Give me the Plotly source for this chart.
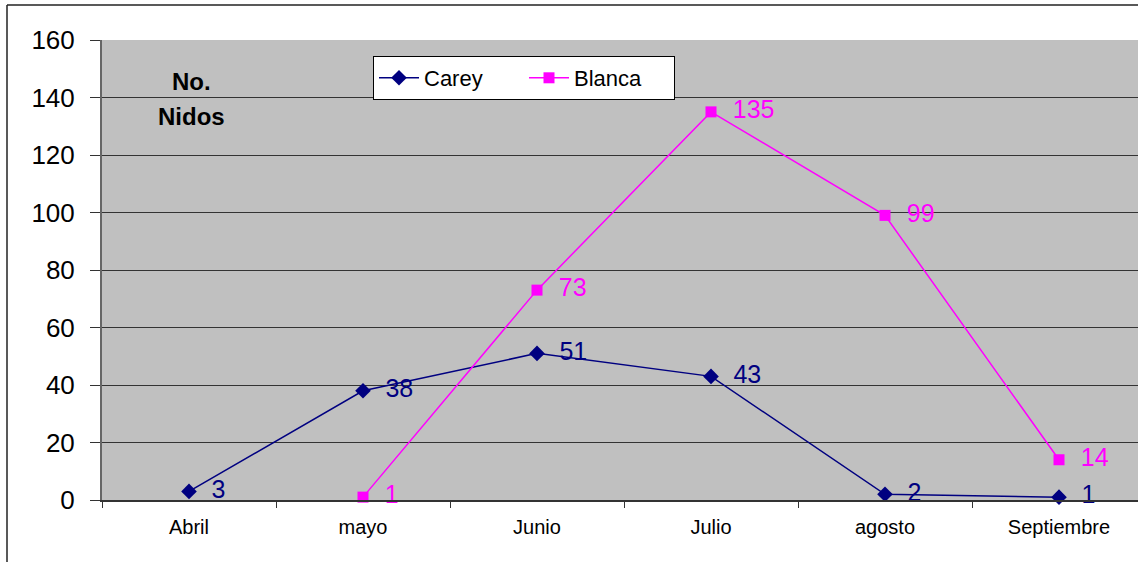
import plotly.graph_objects as go

months = ["Abril", "mayo", "Junio", "Julio", "agosto", "Septiembre"]
carey = [3, 38, 51, 43, 2, 1]
blanca_months = ["mayo", "Junio", "Julio", "agosto", "Septiembre"]
blanca = [1, 73, 135, 99, 14]
y_ticks = [0, 20, 40, 60, 80, 100, 120, 140, 160]

FONT = "Liberation Sans, Arial, sans-serif"
W, H = 1138, 562
L, R, T, B = 102, 0, 40, 62
pw, ph = W - L - R, H - T - B

fig = go.Figure()
fig.add_trace(go.Scatter(
    x=months, y=carey, name="Carey", mode="lines+markers+text",
    line=dict(color="#000080", width=1.5),
    marker=dict(symbol="diamond", size=12, color="#000080"),
    text=["  " + str(v) for v in carey], textposition="middle right",
    textfont=dict(family=FONT, size=25, color="#000080"),
    cliponaxis=False,
))
fig.add_trace(go.Scatter(
    x=blanca_months, y=blanca, name="Blanca", mode="lines+markers+text",
    line=dict(color="#FF00FF", width=1.5),
    marker=dict(symbol="square", size=11, color="#FF00FF"),
    text=["  " + str(v) for v in blanca], textposition="middle right",
    textfont=dict(family=FONT, size=25, color="#FF00FF"),
    cliponaxis=False,
))

def px_x(p):
    return (p - L) / pw

def px_y(p):
    return (H - B - p) / ph

fig.add_annotation(text="<b>No.</b>", xref="paper", yref="paper",
                   x=px_x(191), y=px_y(81), xanchor="center", yanchor="middle",
                   showarrow=False, font=dict(family=FONT, size=24, color="black"))
fig.add_annotation(text="<b>Nidos</b>", xref="paper", yref="paper",
                   x=px_x(191), y=px_y(116), xanchor="center", yanchor="middle",
                   showarrow=False, font=dict(family=FONT, size=24, color="black"))

# outer chart border
fig.add_shape(type="line", xref="paper", yref="paper", x0=px_x(7), x1=px_x(7),
              y0=px_y(5), y1=px_y(562), line=dict(color="#222", width=1.5))
fig.add_shape(type="line", xref="paper", yref="paper", x0=px_x(7), x1=px_x(1138),
              y0=px_y(5), y1=px_y(5), line=dict(color="#222", width=1.5))

fig.update_layout(
    width=W, height=H,
    margin=dict(l=L, r=R, t=T, b=B),
    paper_bgcolor="white", plot_bgcolor="#C0C0C0",
    font=dict(family=FONT, color="black"),
    showlegend=True,
    legend=dict(orientation="h", x=px_x(373), y=px_y(56), xanchor="left", yanchor="top",
                bgcolor="white", bordercolor="black", borderwidth=1,
                font=dict(family=FONT, size=22, color="black"),
                itemwidth=40,
                entrywidth=95, entrywidthmode="pixels", traceorder="normal"),
    xaxis=dict(type="category", categoryorder="array", categoryarray=months,
               range=[-0.5, 5.5 - 8 / 174], tickson="boundaries",
               ticks="outside", ticklen=6, tickcolor="#333", ticklabelstandoff=8,
               showgrid=False, showline=True, linecolor="#333", linewidth=2,
               tickfont=dict(family=FONT, size=20, color="black"), zeroline=False),
    yaxis=dict(range=[0, 160], tickvals=y_ticks, ticks="outside", ticklen=10,
               tickcolor="#333", showgrid=True, gridcolor="#333", gridwidth=1,
               ticklabelstandoff=10,
               showline=True, linecolor="#666", linewidth=2, zeroline=False,
               tickfont=dict(family=FONT, size=26, color="black")),
)

fig.write_html("out.html", config={"displayModeBar": False},
               post_script="document.body.style.margin='0';document.body.style.overflow='hidden';")
